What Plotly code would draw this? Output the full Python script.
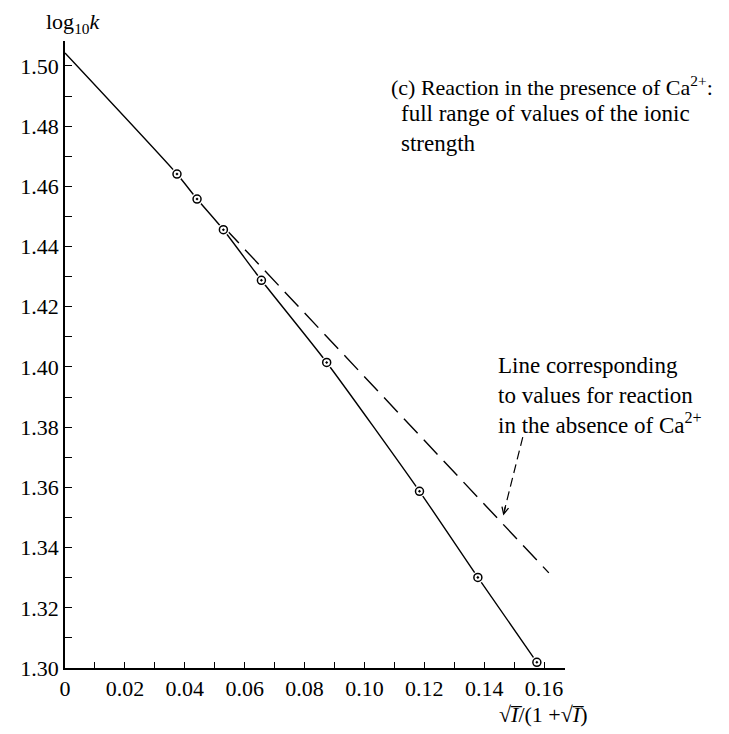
import plotly.graph_objects as go

# measured points (reaction in presence of Ca2+)
x_pts = [0.0374, 0.0441, 0.0529, 0.0656, 0.0874, 0.1184, 0.1379, 0.1576]
y_pts = [1.4641, 1.4558, 1.4456, 1.4288, 1.4015, 1.3587, 1.3301, 1.3019]

# fitted curve starts at the intercept
x_curve = [0.0] + x_pts
y_curve = [1.5043] + y_pts

# line for reaction in the absence of Ca2+
x_dash = [0.0535, 0.1616]
y_dash = [1.4460, 1.3316]

x_ticks = [0, 0.02, 0.04, 0.06, 0.08, 0.10, 0.12, 0.14, 0.16]
x_ticktext = ['0', '0.02', '0.04', '0.06', '0.08', '0.10', '0.12', '0.14', '0.16']

font = 'Liberation Serif, Times New Roman, serif'

fig = go.Figure()

fig.add_trace(go.Scatter(
    x=x_curve, y=y_curve, mode='lines',
    line=dict(color='black', width=1.4, shape='spline', smoothing=0.6),
    showlegend=False, hoverinfo='skip'
))
fig.add_trace(go.Scatter(
    x=x_dash, y=y_dash, mode='lines',
    line=dict(color='black', width=1.4, dash='20px,9px'),
    showlegend=False, hoverinfo='skip'
))
# white halo so the line breaks around each point
fig.add_trace(go.Scatter(
    x=x_pts, y=y_pts, mode='markers',
    marker=dict(symbol='circle', size=12, color='white', line=dict(width=0)),
    showlegend=False, hoverinfo='skip'
))
fig.add_trace(go.Scatter(
    x=x_pts, y=y_pts, mode='markers',
    marker=dict(symbol='circle-open-dot', size=8, color='black', line=dict(width=1.5, color='black')),
    showlegend=False
))

# dashed arrow to the dashed line
fig.add_shape(type='line', x0=0.1529, y0=1.3767, x1=0.1468, y1=1.3525,
              line=dict(color='black', width=1.2, dash='9px,5px'))
fig.add_annotation(x=0.1464, y=1.3507, ax=0.1472, ay=1.3540, xref='x', yref='y',
                   axref='x', ayref='y', text='', showarrow=True,
                   arrowhead=5, arrowsize=1.1, arrowwidth=1.2, arrowcolor='black')

txt = dict(family=font, size=23, color='black')
fig.add_annotation(x=0.647, y=0.929, xref='paper', yref='paper', xanchor='left', yanchor='middle',
                   text='(c) Reaction in the presence of Ca<sup>2+</sup>:', showarrow=False,
                   font=dict(family=font, size=22, color='black'))
fig.add_annotation(x=0.668, y=0.861, xref='paper', yref='paper', xanchor='left', yanchor='middle',
                   text='full range of values of the ionic<br>strength', align='left',
                   showarrow=False, font=txt)
fig.add_annotation(x=0.861, y=0.434, xref='paper', yref='paper', xanchor='left', yanchor='middle',
                   text='Line corresponding<br>to values for reaction<br>in the absence of Ca<sup>2+</sup>',
                   align='left', showarrow=False, font=txt)

# axis titles
fig.add_annotation(x=-0.043, y=1.029, xref='paper', yref='paper', xanchor='left', yanchor='middle',
                   text='log<sub>10</sub><i>k</i>', showarrow=False,
                   font=dict(family=font, size=22, color='black'))
fig.add_annotation(x=0.955, y=-0.0745, xref='paper', yref='paper', xanchor='center', yanchor='middle',
                   text='√<i>I\u0305</i>/(1 +√<i>I\u0305</i>)',
                   showarrow=False, font=dict(family=font, size=22, color='black'))

fig.update_xaxes(
    range=[0, 0.167], tickvals=x_ticks, ticktext=x_ticktext,
    ticks='inside', ticklen=6, tickwidth=1.3, tickcolor='black',
    minor=dict(dtick=0.01, ticks='inside', ticklen=6, tickwidth=1.3, tickcolor='black'),
    showline=True, linecolor='black', linewidth=1.5,
    showgrid=False, zeroline=False,
    tickfont=dict(family=font, size=22, color='black')
)
fig.update_yaxes(
    range=[1.30, 1.5083], dtick=0.02, tick0=1.30, tickformat='.2f',
    ticks='inside', ticklen=7, tickwidth=1.3, tickcolor='black',
    minor=dict(dtick=0.01, ticks='inside', ticklen=7, tickwidth=1.3, tickcolor='black'),
    showline=True, linecolor='black', linewidth=1.5,
    showgrid=False, zeroline=False,
    tickfont=dict(family=font, size=22, color='black')
)

fig.update_layout(
    width=729, height=734,
    margin=dict(l=45, r=172, t=33, b=74),
    plot_bgcolor='white', paper_bgcolor='white',
    showlegend=False
)

fig.write_html('out.html')
